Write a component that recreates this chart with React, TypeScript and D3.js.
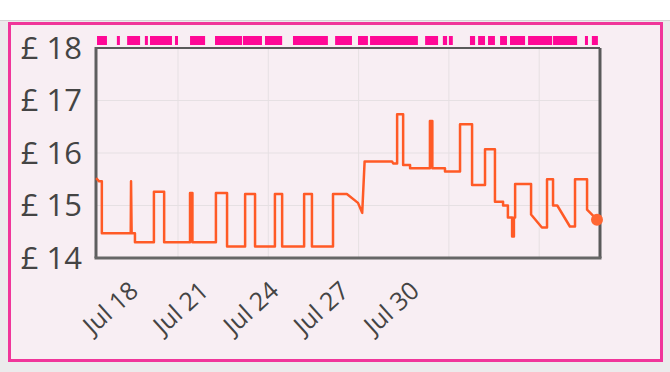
import * as d3 from 'd3';

// prices: [days since 15 Jul, price in £]
const pricePoints: [number, number][] = [
  [0.28, 15.52], [0.38, 15.46], [0.47, 15.46], [0.47, 14.47], [1.43, 14.47], [1.44, 15.46], [1.46, 14.47],
  [1.57, 14.47], [1.57, 14.3], [2.2, 14.3], [2.2, 15.26], [2.54, 15.26], [2.54, 14.3],
  [3.4, 14.3], [3.4, 15.24], [3.48, 15.24], [3.48, 14.3], [4.26, 14.3], [4.26, 15.24], [4.63, 15.24],
  [4.63, 14.22], [5.23, 14.22], [5.23, 15.22], [5.56, 15.22], [5.56, 14.22], [6.22, 14.22], [6.22, 15.22],
  [6.46, 15.22], [6.46, 14.22], [7.19, 14.22], [7.19, 15.22], [7.45, 15.22], [7.45, 14.22], [8.15, 14.22],
  [8.15, 15.22], [8.61, 15.22], [8.98, 15.05], [9.12, 14.86], [9.2, 15.84], [10.11, 15.84], [10.15, 15.8],
  [10.28, 15.8], [10.28, 16.74], [10.48, 16.74], [10.48, 15.77], [10.71, 15.77], [10.71, 15.71],
  [11.37, 15.71], [11.37, 16.61], [11.45, 16.61], [11.45, 15.71], [11.87, 15.71], [11.87, 15.65],
  [12.37, 15.65], [12.37, 16.55], [12.77, 16.55], [12.77, 15.39], [13.2, 15.39], [13.2, 16.07],
  [13.53, 16.07], [13.53, 15.07], [13.8, 15.07], [13.8, 15.0], [13.96, 15.0], [13.96, 14.77],
  [14.1, 14.77], [14.1, 14.41], [14.16, 14.41], [14.16, 14.77], [14.2, 14.77], [14.2, 15.41],
  [14.73, 15.41], [14.73, 14.83], [15.09, 14.58], [15.26, 14.58], [15.26, 15.5], [15.46, 15.5],
  [15.46, 15.0], [15.6, 15.0], [16.02, 14.6], [16.19, 14.6], [16.19, 15.5], [16.59, 15.5], [16.59, 14.92],
  [16.92, 14.73],
];

// pink rug of change markers above the plot: [from, to] in days since 15 Jul
const rugSpans: [number, number][] = [
  [0.31, 0.64], [0.97, 1.07], [1.31, 1.74], [1.9, 2.0], [2.07, 2.8], [2.9, 3.0], [3.4, 3.9],
  [4.23, 5.13], [5.16, 5.79], [5.89, 6.46], [6.82, 7.98], [8.22, 8.78], [8.98, 9.31], [9.38, 10.97],
  [11.21, 11.64], [11.8, 11.94], [12.0, 12.13], [12.7, 12.87], [12.97, 13.2], [13.3, 13.53],
  [13.7, 13.93], [14.03, 14.53], [14.63, 15.43], [15.46, 16.26], [16.52, 16.62], [16.75, 16.95],
];

const priceTicks = [14, 15, 16, 17, 18];
const gridDays = [3, 6, 9, 12, 15];
const dateLabels = ['Jul 18', 'Jul 21', 'Jul 24', 'Jul 27', 'Jul 30'];

const BASE = Date.UTC(2024, 6, 15);
const day = (d: number) => new Date(BASE + d * 864e5);

const W = 670, H = 372;
const PLOT = { left: 96, right: 600, top: 48, bottom: 258 };
const FONT = '"Open Sans", "DejaVu Sans", sans-serif';

export default function App() {
  const x = d3.scaleUtc().domain([day(0.276), day(17.02)]).range([PLOT.left, PLOT.right]);
  const y = d3.scaleLinear().domain([14, 18]).range([PLOT.bottom, PLOT.top]);
  const labelX = d3.scalePoint<string>().domain(dateLabels).range([140, 421]);

  const line = d3.line<[number, number]>()
    .x(d => x(day(d[0])))
    .y(d => y(d[1]));

  const last = pricePoints[pricePoints.length - 1];

  return (
    <div style={{ position: 'fixed', left: 0, top: 0 }}>
      <svg width={W} height={H} style={{ display: 'block', fontFamily: FONT }}>
        <rect width={W} height={H} fill="#fff" />
        <rect x={0} y={20} width={W} height={H - 20} fill="#ecebec" />
        <line x1={0} x2={W} y1={20.5} y2={20.5} stroke="#d4d4d4" />
        <rect x={9.5} y={23.5} width={652} height={337} fill="#f8eef3" stroke="#f0369a" strokeWidth={3} />

        {/* grid */}
        {priceTicks.slice(1, -1).map(p => (
          <line key={p} x1={PLOT.left} x2={PLOT.right} y1={y(p)} y2={y(p)} stroke="#e6e0e3" />
        ))}
        {gridDays.map(d => (
          <line key={d} x1={x(day(d))} x2={x(day(d))} y1={PLOT.top} y2={PLOT.bottom} stroke="#e6e0e3" />
        ))}

        {/* rug */}
        {rugSpans.map(([a, b], i) => (
          <rect key={i} x={x(day(a))} y={36} width={x(day(b)) - x(day(a))} height={9} fill="#ff0896" />
        ))}

        {/* frame */}
        <line x1={PLOT.left} x2={PLOT.right} y1={PLOT.top} y2={PLOT.top} stroke="#5a5a5a" strokeWidth={2} />
        <line x1={PLOT.right} x2={PLOT.right} y1={PLOT.top} y2={PLOT.bottom} stroke="#5a5a5a" strokeWidth={3} />
        <line x1={PLOT.left} x2={PLOT.left} y1={PLOT.top - 1} y2={PLOT.bottom} stroke="#5e5e5e" strokeWidth={3} />
        <line x1={PLOT.left - 1.5} x2={PLOT.right + 1.5} y1={PLOT.bottom} y2={PLOT.bottom} stroke="#666" strokeWidth={3} />

        {/* price line */}
        <path d={line(pricePoints) ?? ''} fill="none" stroke="#ff5a26" strokeWidth={2.5} strokeLinejoin="round" />
        <circle cx={x(day(last[0]))} cy={y(last[1])} r={6} fill="#ff6633" />

        {/* y labels */}
        {priceTicks.map(p => (
          <text key={p} x={82} y={y(p)} dy="0.35em" textAnchor="end" fontSize={31} fill="#444">
            £ {p}
          </text>
        ))}

        {/* x labels */}
        {dateLabels.map(l => (
          <text key={l} transform={`translate(${labelX(l)},293) rotate(-42)`} textAnchor="end" fontSize={25} fill="#444">
            {l}
          </text>
        ))}
      </svg>
    </div>
  );
}
